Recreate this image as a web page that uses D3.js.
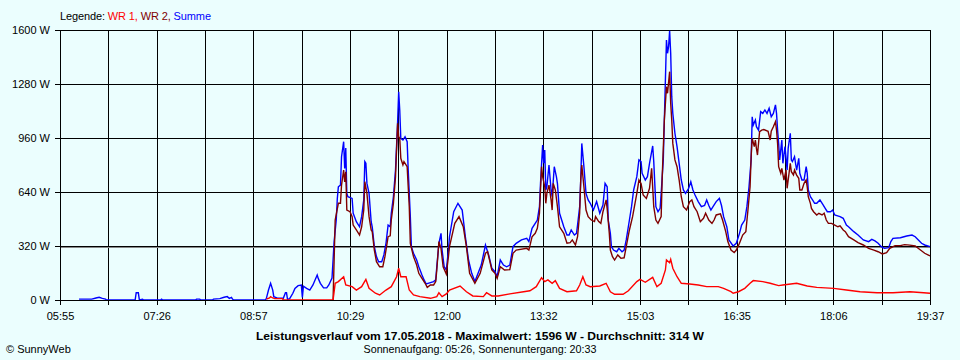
<!DOCTYPE html>
<html><head><meta charset="utf-8">
<script src="https://cdn.jsdelivr.net/npm/d3@7/dist/d3.min.js"></script>
<style>
html,body{margin:0;padding:0;background:#ebfefe;}
svg{display:block;font-family:"Liberation Sans",Arial,sans-serif;}
</style></head><body>
<svg id="chart" width="960" height="360"></svg>
<script>
// ---------- DATA ----------
const timeStart = "05:55", timeEnd = "19:37";
const yTicks = [0, 320, 640, 960, 1280, 1600];
const xTickLabels = ["05:55","07:26","08:57","10:29","12:00","13:32","15:03","16:35","18:06","19:37"];
const average = 314;
const legendNames = ["WR 1", "WR 2", "Summe"];
const titleText = "Leistungsverlauf vom 17.05.2018 - Maximalwert: 1596 W - Durchschnitt: 314 W";
const subtitleText = "Sonnenaufgang: 05:26, Sonnenuntergang: 20:33";

const summe = [
["06:13",5],["06:25",5],["06:29",12],["06:32",16],["06:35",10],["06:38",5],["06:39",0],["07:06",0],["07:07",43],["07:09",43],["07:10",0],["07:13",5],["07:14",0],["07:30",0],["07:31",5],["07:32",0],["08:03",0],["08:04",5],["08:07",5],["08:08",0],["08:19",0],["08:20",5],["08:26",8],["08:30",16],["08:33",20],["08:35",10],["08:37",16],["08:38",5],["08:39",0],
["09:09",0],["09:10",10],["09:12",59],["09:14",99],["09:16",59],["09:17",20],["09:21",10],["09:26",10],["09:28",43],["09:29",43],["09:30",3],["09:32",8],["09:35",40],["09:37",69],["09:40",85],["09:43",89],["09:44",15],["09:45",82],["09:48",69],["09:51",59],["09:54",89],["09:58",148],["09:59",128],
["10:01",99],["10:04",72],["10:07",72],["10:09",89],["10:12",130],["10:13",237],["10:14",346],["10:16",474],["10:17",600],["10:18",671],["10:20",681],["10:21",849],["10:23",938],["10:24",780],["10:25",900],["10:26",632],["10:27",612],["10:31",602],["10:32",514],["10:35",464],["10:38",434],["10:40",494],["10:42",593],["10:43",820],["10:44",810],["10:45",691],["10:47",632],["10:49",464],["10:50",434],["10:52",316],["10:54",257],["10:56",227],["10:59",227],
["11:01",267],["11:03",336],["11:05",444],["11:07",434],["11:08",514],["11:10",612],["11:12",770],["11:14",1057],["11:15",1234],["11:16",1126],["11:17",958],["11:19",948],["11:21",968],["11:23",938],["11:24",770],["11:26",494],["11:27",316],["11:29",277],["11:32",237],["11:34",197],["11:37",148],["11:39",119],["11:41",95],["11:45",103],["11:48",109],["11:50",119],["11:51",197],["11:53",336],["11:55",395],["11:56",296],["11:58",197],
["12:00",178],["12:02",296],["12:03",375],["12:07",523],["12:11",573],["12:15",533],["12:18",375],["12:21",237],["12:24",158],["12:27",109],["12:30",158],["12:33",207],["12:37",326],["12:40",267],["12:43",188],["12:46",168],["12:48",138],["12:51",237],["12:54",207],["12:57",197],
["13:00",207],["13:03",316],["13:06",336],["13:11",356],["13:16",365],["13:18",346],["13:21",425],["13:24",454],["13:26",474],["13:28",553],["13:29",691],["13:31",918],["13:32",810],["13:33",889],["13:34",652],["13:35",671],["13:37",800],["13:39",652],["13:40",612],["13:42",790],["13:44",731],["13:45",690],["13:47",514],["13:49",474],["13:51",434],["13:54",385],["13:56",385],["13:58",415],
["14:01",385],["14:03",395],["14:04",444],["14:06",553],["14:07",711],["14:08",928],["14:10",790],["14:12",632],["14:14",593],["14:16",573],["14:19",533],["14:22",583],["14:25",514],["14:28",563],["14:30",691],["14:32",671],["14:33",474],["14:35",395],["14:36",316],["14:38",296],["14:41",286],["14:43",306],["14:46",286],["14:48",296],["14:50",356],["14:53",474],["14:55",553],["14:57",652],
["15:00",731],["15:02",830],["15:04",820],["15:05",751],["15:08",711],["15:10",731],["15:12",810],["15:15",913],["15:16",820],["15:18",553],["15:20",523],["15:22",543],["15:23",632],["15:25",830],["15:26",1067],["15:28",1541],["15:29",1462],["15:30",1501],["15:31",1596],["15:32",1462],["15:33",1205],["15:34",1106],["15:36",988],["15:38",909],["15:40",810],["15:42",711],["15:44",652],["15:46",632],["15:49",662],["15:51",701],["15:53",652],["15:55",622],["15:58",583],
["16:01",553],["16:04",560],["16:06",593],["16:08",560],["16:10",533],["16:12",553],["16:15",583],["16:18",602],["16:20",560],["16:22",494],["16:25",434],["16:27",356],["16:31",320],["16:34",336],["16:37",395],["16:39",444],["16:42",474],["16:44",553],["16:46",671],["16:48",830],["16:49",1086],["16:50",1037],["16:52",1067],["16:53",1027],["16:55",1007],["16:57",1116],["16:59",1106],
["17:01",1126],["17:03",1106],["17:05",1136],["17:07",1086],["17:09",1106],["17:11",1156],["17:12",1106],["17:13",1007],["17:14",928],["17:15",830],["17:17",948],["17:18",810],["17:20",909],["17:22",770],["17:23",899],["17:25",988],["17:26",830],["17:27",820],["17:29",849],["17:31",770],["17:33",840],["17:34",751],["17:36",711],["17:38",711],["17:40",790],["17:41",751],["17:42",652],["17:44",612],["17:46",593],["17:48",573],["17:50",573],["17:53",593],["17:56",563],["17:58",543],
["18:00",523],["18:03",523],["18:05",533],["18:07",504],["18:09",500],["18:12",494],["18:15",484],["18:18",444],["18:20",434],["18:25",405],["18:29",385],["18:34",356],["18:39",346],["18:42",359],["18:45",350],["18:48",336],["18:51",316],["18:54",306],["18:58",310],
["19:00",346],["19:02",365],["19:09",369],["19:15",379],["19:20",385],["19:23",375],["19:26",356],["19:29",336],["19:32",326],["19:37",316]
];

const wr2 = [
["10:13",0],["10:15",474],["10:18",573],["10:20",573],["10:21",681],["10:23",770],["10:24",700],["10:25",760],["10:26",533],["10:29",523],["10:31",494],["10:32",444],["10:35",415],["10:38",385],["10:40",434],["10:42",533],["10:43",701],["10:45",632],["10:47",494],["10:49",415],["10:50",405],["10:52",296],["10:54",227],["10:57",197],
["11:00",197],["11:02",257],["11:04",336],["11:05",375],["11:07",380],["11:08",474],["11:10",573],["11:12",731],["11:14",1047],["11:15",968],["11:16",958],["11:17",840],["11:19",800],["11:20",820],["11:23",790],["11:24",671],["11:25",553],["11:26",336],["11:29",257],["11:32",207],["11:34",158],["11:37",128],["11:40",99],["11:42",75],["11:45",89],["11:48",89],["11:50",109],["11:51",178],["11:53",346],["11:55",306],["11:57",197],
["12:00",154],["12:02",257],["12:03",316],["12:08",454],["12:12",494],["12:16",434],["12:19",316],["12:22",158],["12:27",99],["12:32",158],["12:37",277],["12:39",286],["12:43",178],["12:46",158],["12:48",128],["12:51",197],["12:55",178],
["13:00",180],["13:03",277],["13:06",296],["13:16",306],["13:18",296],["13:21",375],["13:24",395],["13:26",425],["13:28",514],["13:30",790],["13:31",731],["13:33",671],["13:34",573],["13:35",632],["13:37",681],["13:39",593],["13:40",533],["13:41",691],["13:43",652],["13:45",553],["13:47",434],["13:51",395],["13:54",336],["13:57",340],["13:59",356],
["14:02",326],["14:04",375],["14:06",514],["14:07",711],["14:08",800],["14:10",671],["14:12",533],["14:14",494],["14:17",474],["14:20",465],["14:21",494],["14:24",465],["14:26",454],["14:28",523],["14:31",593],["14:32",540],["14:34",395],["14:35",296],["14:37",257],["14:39",237],["14:42",267],["14:45",247],["14:48",250],["14:50",316],["14:53",415],["14:56",494],
["15:00",632],["15:02",711],["15:04",691],["15:06",622],["15:09",602],["15:12",662],["15:14",780],["15:16",553],["15:18",474],["15:20",454],["15:23",494],["15:24",731],["15:26",1067],["15:28",1264],["15:29",1225],["15:31",1353],["15:32",1166],["15:33",1067],["15:34",928],["15:36",830],["15:38",790],["15:40",711],["15:42",612],["15:44",553],["15:47",533],["15:50",583],["15:52",593],["15:54",553],["15:57",523],
["16:00",464],["16:03",484],["16:05",514],["16:08",474],["16:11",454],["16:13",474],["16:15",504],["16:19",510],["16:21",474],["16:24",405],["16:26",346],["16:29",296],["16:32",281],["16:34",296],["16:37",336],["16:40",385],["16:43",405],["16:45",533],["16:47",671],["16:48",849],["16:49",958],["16:51",909],["16:52",948],["16:53",899],["16:54",859],["16:56",998],["16:58",1007],
["17:00",1010],["17:04",1000],["17:06",948],["17:07",1000],["17:09",1027],["17:11",1057],["17:12",1007],["17:13",928],["17:14",790],["17:16",751],["17:17",780],["17:19",711],["17:21",770],["17:22",662],["17:24",760],["17:25",810],["17:26",760],["17:28",741],["17:29",770],["17:31",740],["17:33",721],["17:34",652],["17:36",652],["17:38",691],["17:40",711],["17:41",671],["17:42",612],["17:44",573],["17:45",543],["17:47",523],["17:50",504],["17:52",514],["17:55",504],["17:57",514],["17:59",474],
["18:01",454],["18:04",454],["18:07",444],["18:10",434],["18:12",439],["18:15",415],["18:17",405],["18:20",375],["18:25",356],["18:29",340],["18:34",326],["18:39",306],["18:44",296],["18:48",286],["18:52",273],["18:56",281],["18:59",306],
["19:04",322],["19:09",322],["19:13",328],["19:18",325],["19:23",320],["19:28",296],["19:32",277],["19:37",261]
];

const wr1 = [
["09:10",5],["09:13",12],["09:14",20],["09:16",12],["09:18",8],["09:25",8],["09:26",0],["10:13",0],["10:15",99],["10:18",109],["10:23",138],["10:25",89],["10:31",79],["10:35",59],["10:40",79],["10:44",122],["10:47",69],["10:53",40],["10:57",30],
["11:03",59],["11:08",79],["11:13",138],["11:15",188],["11:17",138],["11:22",138],["11:25",59],["11:29",30],["11:35",20],["11:45",10],["11:51",20],["11:53",43],["11:56",20],
["12:00",36],["12:03",59],["12:13",83],["12:19",49],["12:25",24],["12:35",20],["12:38",43],["12:43",24],["12:49",24],
["13:00",36],["13:13",49],["13:19",55],["13:25",79],["13:30",132],["13:33",109],["13:36",119],["13:40",99],["13:43",115],["13:47",69],["13:54",49],
["14:03",55],["14:06",89],["14:09",138],["14:12",89],["14:16",79],["14:25",83],["14:31",99],["14:35",49],["14:39",34],["14:47",34],["14:52",55],
["15:00",109],["15:03",122],["15:08",105],["15:15",134],["15:19",79],["15:23",99],["15:27",178],["15:28",237],["15:31",221],["15:32",241],["15:34",188],["15:38",138],["15:42",99],["15:50",95],["15:58",89],
["16:06",79],["16:17",79],["16:22",69],["16:29",49],["16:31",40],["16:36",49],["16:42",69],["16:47",99],["16:50",115],["16:59",109],
["17:06",99],["17:14",85],["17:18",89],["17:31",99],["17:41",83],["17:50",75],
["18:06",69],["18:18",59],["18:31",49],["18:47",43],["19:02",43],["19:18",49],["19:31",43],["19:37",40]
];

// ---------- CHART ----------
const toMin = s => { const [h, m] = s.split(":").map(Number); return h * 60 + m; };
const svg = d3.select("#chart");
const t0 = toMin(timeStart), t1 = toMin(timeEnd);
const x = d3.scaleLinear().domain([t0, t1]).range([60, 930]);
const y = d3.scaleLinear().domain([0, 1600]).range([300, 30]);

const nDiv = (xTickLabels.length - 1) * 2;
const xTickVals = d3.range(nDiv + 1).map(i => t0 + i * (t1 - t0) / nDiv);
const xFmt = (d, i) => (i % 2 === 0 ? xTickLabels[i / 2] : "");

// grid
const gridX = svg.append("g").attr("transform", "translate(0,300)")
  .call(d3.axisBottom(x).tickValues(xTickVals).tickSize(-270).tickFormat(""));
gridX.select(".domain").remove();
gridX.selectAll("line").attr("stroke", "#000").attr("shape-rendering", "crispEdges");

const gridY = svg.append("g").attr("transform", "translate(60,0)")
  .call(d3.axisLeft(y).tickValues(yTicks).tickSize(-870).tickFormat(""));
gridY.select(".domain").remove();
gridY.selectAll("line").attr("stroke", "#000").attr("shape-rendering", "crispEdges");

// average line
svg.append("line")
  .attr("x1", x(t0)).attr("x2", x(t1))
  .attr("y1", Math.round(y(average)) + 0.5).attr("y2", Math.round(y(average)) + 0.5)
  .attr("stroke", "#888").attr("stroke-width", 1).attr("shape-rendering", "crispEdges");

// series
const line = d3.line().x(d => x(toMin(d[0]))).y(d => y(d[1]));
const series = [
  { data: summe, color: "#0000ff" },
  { data: wr2, color: "#800000" },
  { data: wr1, color: "#ff0000" }
];
series.forEach(s => {
  svg.append("path").datum(s.data).attr("d", line)
    .attr("fill", "none").attr("stroke", s.color).attr("stroke-width", 1.4)
    .attr("stroke-linejoin", "miter");
});

// axes
const axL = svg.append("g").attr("transform", "translate(60,0)")
  .call(d3.axisLeft(y).tickValues(yTicks).tickSize(5).tickSizeOuter(0).tickPadding(5).tickFormat(d => d + " W"));
const axB = svg.append("g").attr("transform", "translate(0,300)")
  .call(d3.axisBottom(x).tickValues(xTickVals).tickSize(5).tickSizeOuter(0).tickPadding(7).tickFormat(xFmt));
[axL, axB].forEach(a => {
  a.selectAll("line,path").attr("stroke", "#000").attr("shape-rendering", "crispEdges");
  a.selectAll("text").attr("fill", "#000").attr("font-size", 11)
    .attr("font-family", "'Liberation Sans',Arial,sans-serif");
});

// legend
const leg = svg.append("text").attr("x", 60).attr("y", 20).attr("font-size", 11)
  .attr("textLength", 151).attr("lengthAdjust", "spacing");
leg.append("tspan").attr("fill", "#000").text("Legende: ");
leg.append("tspan").attr("fill", "#ff0000").text(legendNames[0] + ", ");
leg.append("tspan").attr("fill", "#800000").text(legendNames[1] + ", ");
leg.append("tspan").attr("fill", "#0000ff").text(legendNames[2]);

// titles
svg.append("text").attr("x", 480).attr("y", 340).attr("text-anchor", "middle")
  .attr("font-size", 11).attr("font-weight", "bold").attr("fill", "#000")
  .attr("textLength", 448).attr("lengthAdjust", "spacingAndGlyphs").text(titleText);
svg.append("text").attr("x", 480).attr("y", 353).attr("text-anchor", "middle")
  .attr("font-size", 11).attr("fill", "#000")
  .attr("textLength", 233).attr("lengthAdjust", "spacingAndGlyphs").text(subtitleText);
svg.append("text").attr("x", 6).attr("y", 353).attr("font-size", 11).attr("fill", "#000")
  .text("© SunnyWeb");
</script>
</body></html>
